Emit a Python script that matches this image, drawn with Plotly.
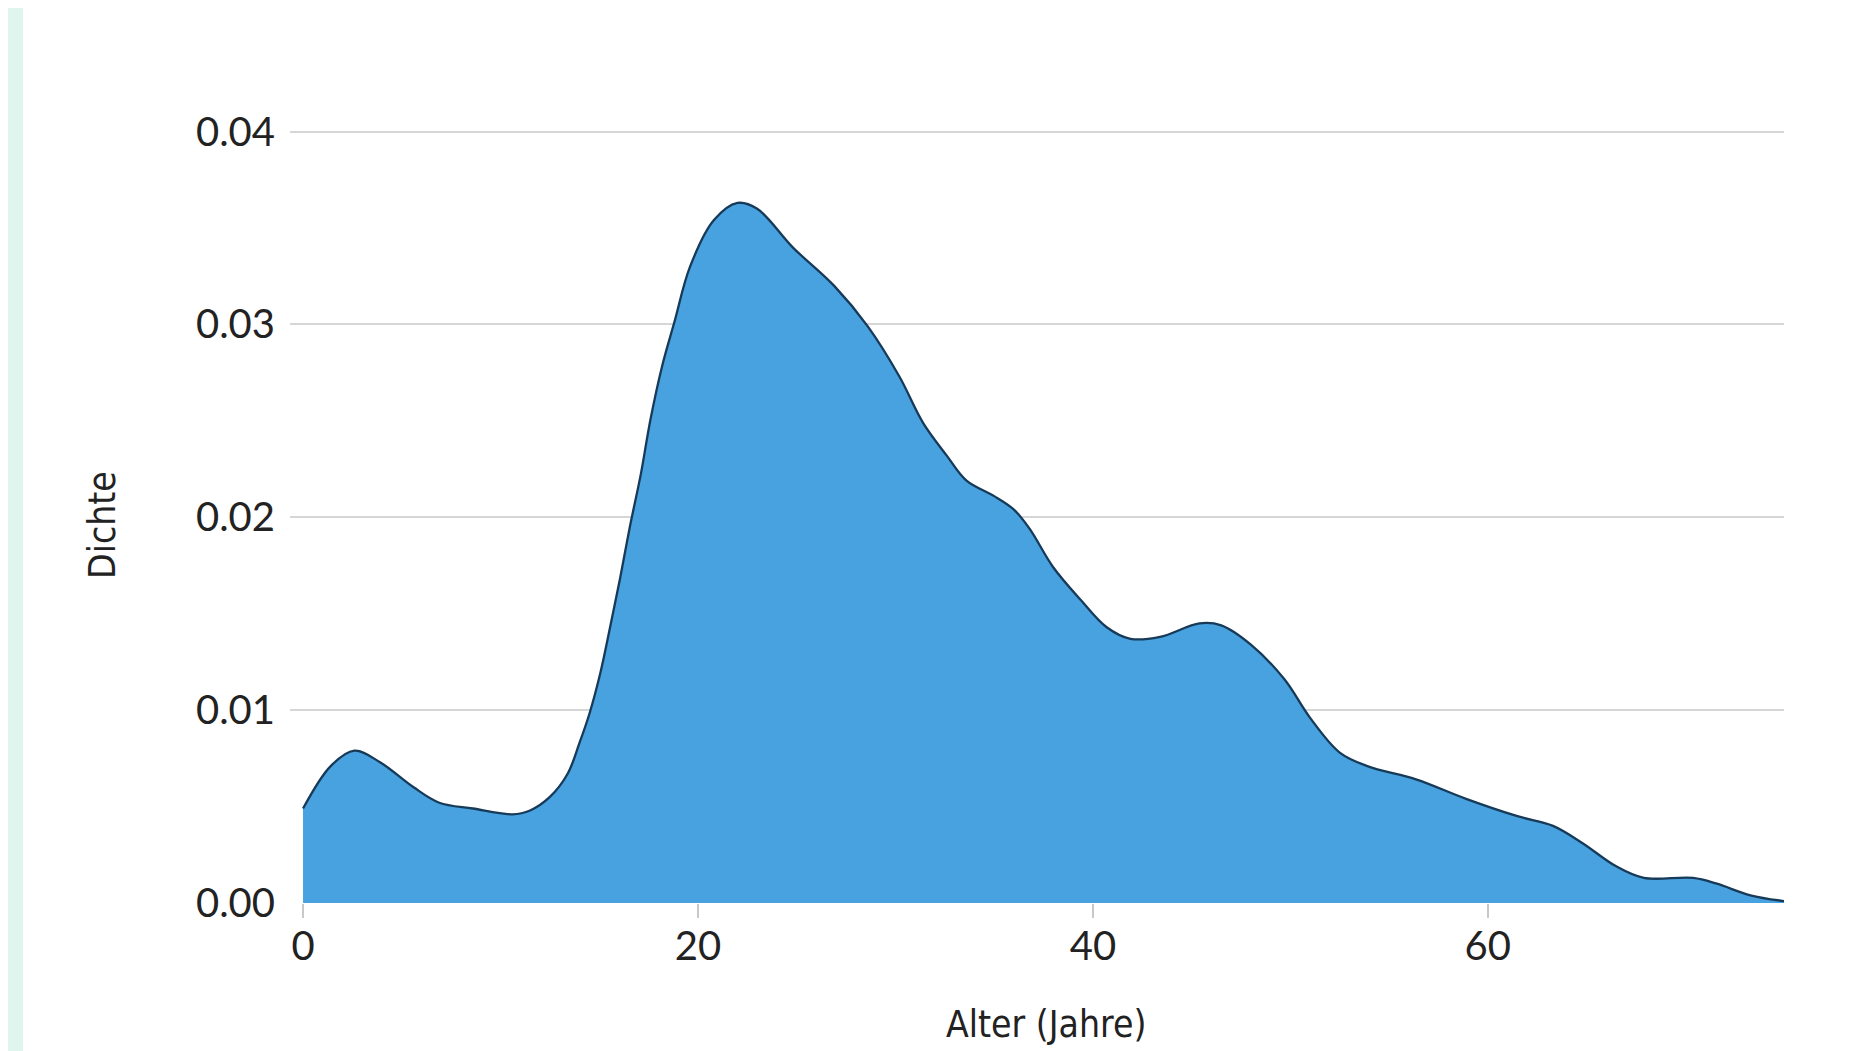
import plotly.graph_objects as go

# ---- data (kernel density of age) ----
alter = [0, 1.4, 2.6, 3.9, 5.6, 6.9, 8.6, 10.6,
         11.5, 12.5, 13.4, 14.0, 14.5, 15.05, 15.55, 16.05, 16.55, 17.1,
         17.6, 18.2, 18.8, 19.6, 20.8, 22.0, 23.0, 24.8, 26.9, 28.6, 30.2,
         31.4, 32.6, 33.6, 35.0, 36.0, 36.8, 38.0, 39.4, 40.7, 41.9,
         43.4, 45.4, 46.5, 48.0, 49.7, 51.0, 52.5, 53.9, 56.4, 58.9,
         61.5, 63.3, 64.8, 66.5, 67.9, 70.4, 71.6, 73.3, 75.0]
dichte = [0.0049, 0.0071, 0.0079, 0.0073, 0.0060, 0.0052, 0.0049, 0.0046,
          0.0048, 0.0055, 0.0067, 0.0083, 0.0098, 0.0119, 0.0143, 0.0168, 0.0195, 0.0222,
          0.0251, 0.0279, 0.0301, 0.0330, 0.0354, 0.0363, 0.0360, 0.0340, 0.0320, 0.0299, 0.0273,
          0.0249, 0.0232, 0.0219, 0.0211, 0.0204, 0.0194, 0.0174, 0.0157, 0.0143, 0.0137,
          0.0138, 0.0145, 0.0144, 0.0134, 0.0116, 0.0096, 0.0078, 0.0071, 0.0064, 0.0054,
          0.0045, 0.0040, 0.0031, 0.0019, 0.0013, 0.0013, 0.0010, 0.0004, 0.0001]

x_ticks = [0, 20, 40, 60]
y_ticks = [0.00, 0.01, 0.02, 0.03, 0.04]
y_tick_labels = ["0.00", "0.01", "0.02", "0.03", "0.04"]

x_title = "Alter (Jahre)"
y_title = "Dichte"

# ---- layout geometry (page body has an 8px margin, figure sized to fit) ----
W, H = 1859, 1043
ML, MR, MT, MB = 282, 83, 114, 148
PW = W - ML - MR
PH = H - MT - MB

def px_to_paper_x(px):
    return (px - ML) / PW

def px_to_paper_y(py):
    return (H - MB - py) / PH

MINT = "#dff5ee"
FILL = "#48a2e0"
LINE = "#173a58"
TICK_FONT = dict(family="Lato, 'Open Sans', sans-serif", size=40, color="#222222")
TITLE_FONT = dict(family="'Liberation Sans Narrow', 'Arial Narrow', 'DejaVu Sans Condensed', sans-serif",
                  size=37, color="#222222")

fig = go.Figure()
fig.add_trace(go.Scatter(
    x=alter, y=dichte, mode="lines",
    line=dict(color=LINE, width=2.3, shape="spline", smoothing=1.0),
    fill="tozeroy", fillcolor=FILL, hoverinfo="x+y", showlegend=False,
))

fig.update_layout(
    width=W, height=H,
    margin=dict(l=ML, r=MR, t=MT, b=MB, autoexpand=False),
    paper_bgcolor="white",
    plot_bgcolor="rgba(0,0,0,0)",
    showlegend=False,
    xaxis=dict(
        range=[-0.66, 75.0],
        tickvals=x_ticks,
        ticks="outside", ticklen=14, tickwidth=2, tickcolor="#c8c8c8",
        ticklabelstandoff=-6,
        tickfont=TICK_FONT,
        showgrid=False, zeroline=False, showline=False,
        automargin=False,
    ),
    yaxis=dict(
        range=[0, 0.0405],
        tickvals=y_ticks, ticktext=y_tick_labels,
        ticks="", ticklabelstandoff=14,
        tickfont=TICK_FONT,
        showgrid=True, gridcolor="#d6d6d6", gridwidth=2,
        zeroline=False, showline=False,
        automargin=False,
    ),
    annotations=[
        dict(text=x_title, xref="paper", yref="paper",
             x=px_to_paper_x(1038), y=px_to_paper_y(1016),
             xanchor="center", yanchor="middle", showarrow=False, font=TITLE_FONT),
        dict(text=y_title, xref="paper", yref="paper",
             x=px_to_paper_x(94), y=px_to_paper_y(517), textangle=-90,
             xanchor="center", yanchor="middle", showarrow=False, font=TITLE_FONT),
    ],
    shapes=[
        # mint frame strip on the left edge
        dict(type="rect", xref="paper", yref="paper", layer="below",
             x0=px_to_paper_x(0) - 0.01, x1=px_to_paper_x(15),
             y0=px_to_paper_y(H) - 0.01, y1=px_to_paper_y(0) + 0.01,
             fillcolor=MINT, line=dict(width=0)),
    ],
)

fig.write_html("out.html")
